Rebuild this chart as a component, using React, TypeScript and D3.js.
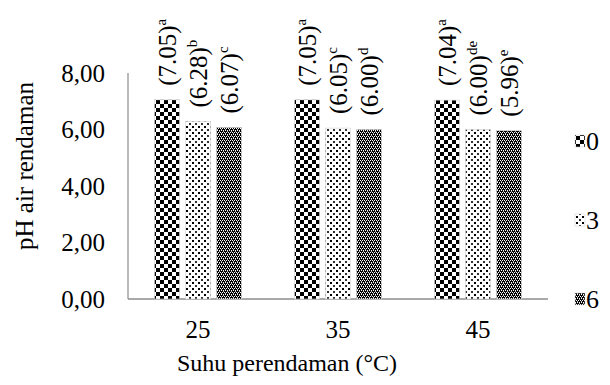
import React from "react";
import * as d3 from "d3";

const categories = ["25", "35", "45"];
const seriesNames = ["0", "3", "6"];
const values = [
  [7.05, 6.28, 6.07],
  [7.05, 6.05, 6.0],
  [7.04, 6.0, 5.96],
];
const valueLabels = [
  ["(7.05)", "(6.28)", "(6.07)"],
  ["(7.05)", "(6.05)", "(6.00)"],
  ["(7.04)", "(6.00)", "(5.96)"],
];
const letters = [
  ["a", "b", "c"],
  ["a", "c", "d"],
  ["a", "de", "e"],
];
const yTicks = [0, 2, 4, 6, 8];

const W = 610;
const H = 385;
const left = 128;
const right = 548;
const top = 73;
const bottom = 299;
const FONT = "Liberation Serif";

export default function App() {
  const x = d3.scaleBand<string>().domain(categories).range([left, right]).padding(0);
  const inner = d3
    .scaleBand<string>()
    .domain(seriesNames)
    .range([-43.5, 43.5])
    .paddingInner(0.194)
    .paddingOuter(0);
  const y = d3.scaleLinear().domain([0, 8]).range([bottom, top]);
  const fmt = (v: number) => v.toFixed(2).replace(".", ",");
  const patIds = ["p0", "p3", "p6"];
  const legendY = [141, 220, 299];
  const ts = { fontFamily: FONT } as React.CSSProperties;

  return (
    <svg
      width={W}
      height={H}
      style={{ position: "absolute", left: 0, top: 0, background: "#fff", fontFamily: FONT }}
    >
      <defs>
        <pattern id="p0" width={8} height={8} patternUnits="userSpaceOnUse">
          <rect width={8} height={8} fill="#fff" />
          <rect x={0} y={0} width={4} height={4} fill="#000" />
          <rect x={4} y={4} width={4} height={4} fill="#000" />
        </pattern>
        <pattern id="p3" width={6} height={6} patternUnits="userSpaceOnUse">
          <rect width={6} height={6} fill="#fff" />
          <rect x={0} y={0} width={2} height={2} fill="#000" />
          <rect x={3} y={3} width={2} height={2} fill="#333" />
        </pattern>
        <pattern id="p6" width={4} height={4} patternUnits="userSpaceOnUse">
          <rect width={4} height={4} fill="#000" />
          <rect x={0} y={0} width={1} height={1} fill="#fff" />
          <rect x={2} y={0} width={1} height={1} fill="#fff" />
          <rect x={1} y={1} width={1} height={1} fill="#bbb" />
          <rect x={1} y={2} width={1} height={1} fill="#fff" />
          <rect x={3} y={2} width={1} height={1} fill="#fff" />
          <rect x={3} y={3} width={1} height={1} fill="#aaa" />
        </pattern>
      </defs>

      {/* axes */}
      <line x1={left} x2={left} y1={top} y2={bottom} stroke="#8c8c8c" strokeWidth={1.2} />
      <line x1={left} x2={right} y1={bottom} y2={bottom} stroke="#8c8c8c" strokeWidth={1.5} />

      {yTicks.map((t) => (
        <text
          key={t}
          x={105}
          y={y(t)}
          dy="0.35em"
          textAnchor="end"
          style={ts}
          fontSize={25}
          fill="#000"
        >
          {fmt(t)}
        </text>
      ))}

      {categories.map((c, ci) => {
        const cx = (x(c) as number) + x.bandwidth() / 2;
        return (
          <g key={c}>
            {seriesNames.map((s, si) => {
              const bx = cx + (inner(s) as number);
              const by = y(values[ci][si]);
              const bw = inner.bandwidth();
              const lx = bx + bw / 2 + 9;
              const ly = by - 14;
              return (
                <g key={s}>
                  <rect
                    x={bx}
                    y={by}
                    width={bw}
                    height={bottom - by}
                    fill={`url(#${patIds[si]})`}
                    stroke="#cfcfcf"
                    strokeWidth={0.6}
                  />
                  <text
                    transform={`translate(${lx},${ly}) rotate(-90)`}
                    style={ts}
                    fontSize={25}
                    fill="#000"
                  >
                    {valueLabels[ci][si]}
                    <tspan fontSize={15} dy={-10} style={ts}>
                      {letters[ci][si]}
                    </tspan>
                  </text>
                </g>
              );
            })}
            <text x={cx} y={338} textAnchor="middle" style={ts} fontSize={25} fill="#000">
              {c}
            </text>
          </g>
        );
      })}

      {/* axis titles */}
      <text x={287} y={371} textAnchor="middle" style={ts} fontSize={24} fill="#000">
        Suhu perendaman (°C)
      </text>
      <text
        transform={`translate(33,166) rotate(-90)`}
        textAnchor="middle"
        style={ts}
        fontSize={25}
        fill="#000"
      >
        pH air rendaman
      </text>

      {/* legend */}
      {seriesNames.map((s, si) => (
        <g key={s}>
          <rect
            x={575}
            y={legendY[si] - 6}
            width={10}
            height={12}
            fill={`url(#${patIds[si]})`}
            stroke="#cfcfcf"
            strokeWidth={0.5}
          />
          <text x={586} y={legendY[si]} dy="0.35em" style={ts} fontSize={26} fill="#000">
            {s}
          </text>
        </g>
      ))}
    </svg>
  );
}
